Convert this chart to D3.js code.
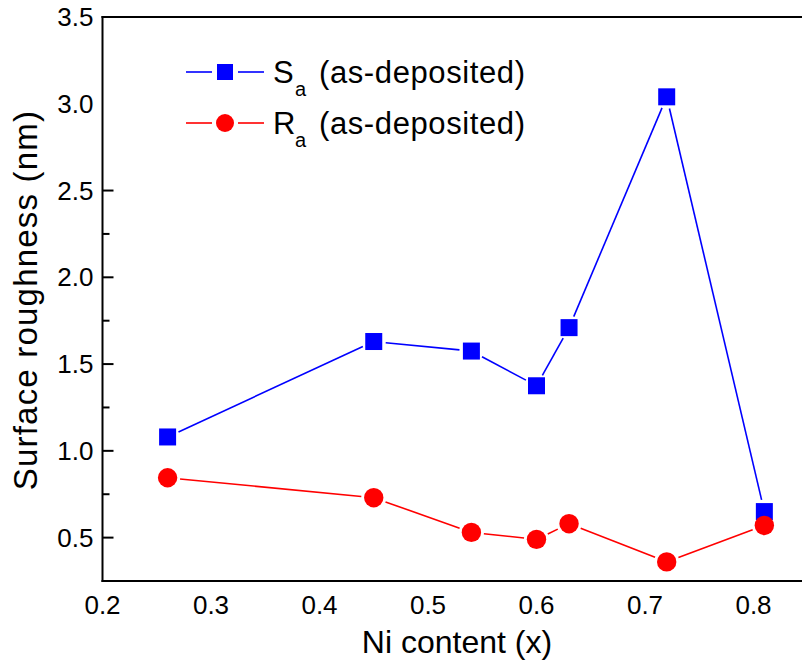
<!DOCTYPE html>
<html>
<head>
<meta charset="utf-8">
<script src="https://cdn.jsdelivr.net/npm/d3@7"></script>
<style>
  html, body { margin: 0; padding: 0; background: #ffffff; }
  svg { display: block; }
  text { font-family: "Liberation Sans", Arial, sans-serif; fill: #000; }
</style>
</head>
<body>
<svg id="chart" width="802" height="670"></svg>
<script>
// Ni content of the films
const niContent = [0.26, 0.45, 0.54, 0.60, 0.63, 0.72, 0.81];
// Areal roughness Sa (nm), as-deposited
const saValues = [1.08, 1.63, 1.575, 1.375, 1.71, 3.04, 0.65];
// Line roughness Ra (nm), as-deposited
const raValues = [0.845, 0.73, 0.53, 0.49, 0.58, 0.36, 0.57];

const xTicks = [0.2, 0.3, 0.4, 0.5, 0.6, 0.7, 0.8];
const yTicks = [0.5, 1.0, 1.5, 2.0, 2.5, 3.0, 3.5];
const yMarkedTicks = [0.5, 1.0, 1.5, 2.0, 2.5];
const yMinorTicks = [0.75, 1.25, 1.75, 2.25];

const svg = d3.select("#chart");
const plotLeft = 102.5, plotTop = 17, plotBottom = 581;

const x = d3.scaleLinear().domain([0.2, 0.85]).range([plotLeft, plotLeft + 0.65 * 1085]);
const y = d3.scaleLinear().domain([0.25, 3.5]).range([plotBottom, plotTop]);

// frame: left, bottom and top edges
const frame = svg.append("g").attr("stroke", "#000").attr("stroke-width", 2).attr("fill", "none");
frame.append("line").attr("x1", plotLeft).attr("x2", plotLeft).attr("y1", plotTop - 1).attr("y2", plotBottom + 1);
frame.append("line").attr("x1", plotLeft - 1).attr("x2", 802).attr("y1", plotBottom).attr("y2", plotBottom);
frame.append("line").attr("x1", plotLeft - 1).attr("x2", 802).attr("y1", plotTop).attr("y2", plotTop);

// y ticks (inward)
frame.selectAll("line.major").data(yMarkedTicks).join("line")
  .attr("class", "major")
  .attr("x1", plotLeft).attr("x2", plotLeft + 11)
  .attr("y1", d => y(d)).attr("y2", d => y(d));
frame.selectAll("line.minor").data(yMinorTicks).join("line")
  .attr("class", "minor")
  .attr("x1", plotLeft).attr("x2", plotLeft + 7)
  .attr("y1", d => y(d)).attr("y2", d => y(d));

// tick labels
svg.append("g").selectAll("text").data(yTicks).join("text")
  .attr("x", plotLeft - 9).attr("y", d => y(d))
  .attr("text-anchor", "end").attr("dominant-baseline", "central")
  .style("font-size", "26px")
  .text(d => d.toFixed(1));
svg.append("g").selectAll("text").data(xTicks).join("text")
  .attr("x", d => x(d)).attr("y", 614)
  .attr("text-anchor", "middle")
  .style("font-size", "26px")
  .text(d => d.toFixed(1));

// axis titles
svg.append("text")
  .attr("x", 457).attr("y", 653)
  .attr("text-anchor", "middle")
  .style("font-size", "32px")
  .text("Ni content (x)");
svg.append("text")
  .attr("transform", `translate(37, ${(plotTop + plotBottom) / 2 + 1}) rotate(-90)`)
  .attr("text-anchor", "middle")
  .style("font-size", "33px")
  .style("letter-spacing", "1.2px")
  .text("Surface roughness (nm)");

// connecting lines stop short of the markers
function drawSeries(vals, color, gap) {
  const pts = niContent.map((n, i) => [x(n), y(vals[i])]);
  const g = svg.append("g").attr("stroke", color).attr("stroke-width", 1.6);
  for (let i = 0; i < pts.length - 1; i++) {
    const [x1, y1] = pts[i], [x2, y2] = pts[i + 1];
    const len = Math.hypot(x2 - x1, y2 - y1);
    const ux = (x2 - x1) / len, uy = (y2 - y1) / len;
    g.append("line")
      .attr("x1", x1 + ux * gap).attr("y1", y1 + uy * gap)
      .attr("x2", x2 - ux * gap).attr("y2", y2 - uy * gap);
  }
  return pts;
}

const saPts = drawSeries(saValues, "#0000ff", 12);
const raPts = drawSeries(raValues, "#ff0000", 12.5);

svg.append("g").selectAll("rect").data(saPts).join("rect")
  .attr("x", d => d[0] - 8.5).attr("y", d => d[1] - 8.5)
  .attr("width", 17).attr("height", 17)
  .attr("fill", "#0000ff");
svg.append("g").selectAll("circle").data(raPts).join("circle")
  .attr("cx", d => d[0]).attr("cy", d => d[1]).attr("r", 9.7)
  .attr("fill", "#ff0000");

// legend
const legend = [
  { sym: "square", color: "#0000ff", main: "S", sub: "a", rest: "(as-deposited)", y: 72 },
  { sym: "circle", color: "#ff0000", main: "R", sub: "a", rest: "(as-deposited)", y: 123 }
];
const lg = svg.append("g");
legend.forEach(d => {
  lg.append("line").attr("x1", 186).attr("x2", 212).attr("y1", d.y).attr("y2", d.y)
    .attr("stroke", d.color).attr("stroke-width", 1.6);
  lg.append("line").attr("x1", 238).attr("x2", 264).attr("y1", d.y).attr("y2", d.y)
    .attr("stroke", d.color).attr("stroke-width", 1.6);
  if (d.sym === "square") {
    lg.append("rect").attr("x", 225 - 8).attr("y", d.y - 8).attr("width", 16).attr("height", 16)
      .attr("fill", d.color);
  } else {
    lg.append("circle").attr("cx", 225).attr("cy", d.y).attr("r", 9).attr("fill", d.color);
  }
  const base = d.y + 11;
  const t = lg.append("text").attr("y", base).style("font-size", "31px");
  t.append("tspan").attr("x", 273).text(d.main);
  t.append("tspan").attr("x", 295).attr("y", base + 13).style("font-size", "20px").text(d.sub);
  t.append("tspan").attr("x", 319).attr("y", base).style("letter-spacing", "0.6px").text(d.rest);
});
</script>
</body>
</html>
